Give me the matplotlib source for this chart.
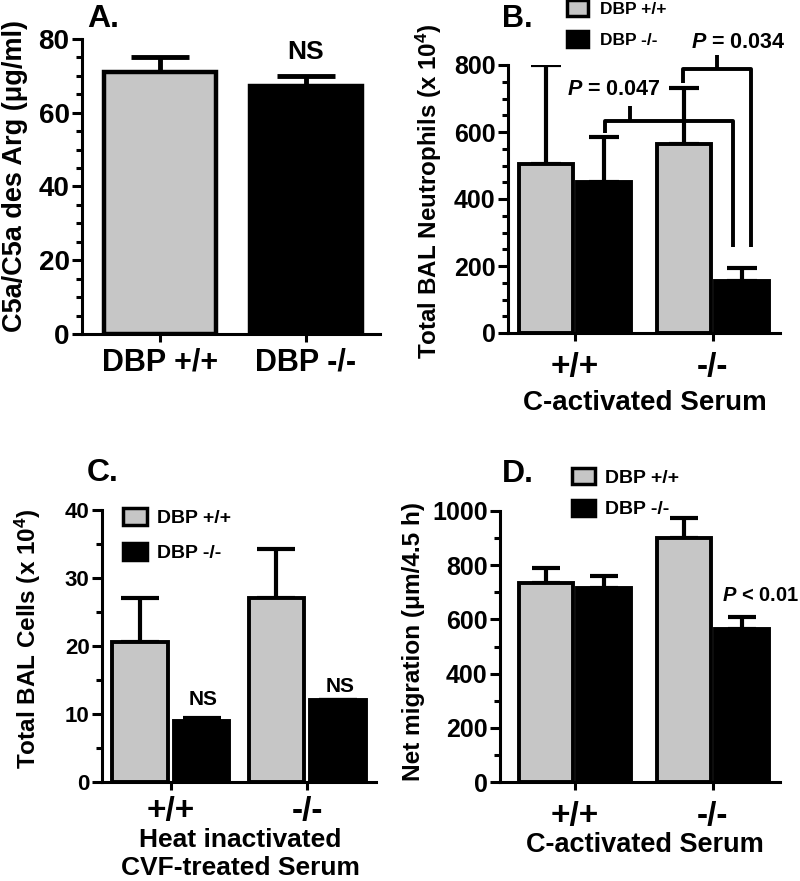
import numpy as np
import matplotlib
matplotlib.use("Agg")
import matplotlib.pyplot as plt
from matplotlib.patches import Patch
from matplotlib.ticker import MultipleLocator

plt.rcParams['font.family'] = ['Liberation Sans', 'DejaVu Sans']
plt.rcParams['font.weight'] = 'bold'
plt.rcParams['axes.labelweight'] = 'bold'
plt.rcParams['mathtext.fontset'] = 'custom'
plt.rcParams['mathtext.it'] = 'Liberation Sans:italic:bold'
plt.rcParams['mathtext.rm'] = 'Liberation Sans:bold'

# ---- data ----
a_labels = ['DBP +/+', 'DBP -/-']
a_mean = [71.0, 67.3]
a_err = [4.0, 2.7]

groups = ['+/+', '-/-']
b_wt = [505, 565]
b_wt_err = [295, 165]
b_ko = [450, 155]
b_ko_err = [135, 40]

c_wt = [20.6, 27.0]
c_wt_err = [6.4, 7.2]
c_ko = [9.0, 12.0]
c_ko_err = [0.4, 0.0]

d_wt = [736, 902]
d_wt_err = [53, 71]
d_ko = [717, 565]
d_ko_err = [43, 44]

GRAY = '#c6c6c6'
W, H = 800, 881
fig = plt.figure(figsize=(W / 100, H / 100), dpi=100)


def px_axes(left, top, right, bottom):
    return fig.add_axes([left / W, 1 - bottom / H, (right - left) / W, (bottom - top) / H])


def style(ax, ymax, major, minor, tsize, lw=2.2):
    for s in ['top', 'right']:
        ax.spines[s].set_visible(False)
    for s in ['left', 'bottom']:
        ax.spines[s].set_linewidth(lw)
    ax.set_ylim(0, ymax)
    ax.yaxis.set_major_locator(MultipleLocator(major))
    ax.yaxis.set_minor_locator(MultipleLocator(minor))
    ax.tick_params(axis='y', which='major', length=7, width=lw, labelsize=tsize, pad=2)
    ax.tick_params(axis='y', which='minor', length=4.5, width=lw)
    ax.tick_params(axis='x', which='major', length=6, width=lw)


def fig_text(x, y, s, **kw):
    fig.text(x / W, 1 - y / H, s, **kw)


def legend(ax, x, y, fs, hl, hh, ls, tp):
    handles = [Patch(facecolor=GRAY, edgecolor='black', linewidth=2.5, label='DBP +/+'),
               Patch(facecolor='black', edgecolor='black', linewidth=2.5, label='DBP -/-')]
    ax.legend(handles=handles, loc='upper left', bbox_to_anchor=(x / W, 1 - y / H),
              bbox_transform=fig.transFigure, frameon=False, fontsize=fs,
              handlelength=hl, handleheight=hh, labelspacing=ls, handletextpad=tp,
              borderpad=0, borderaxespad=0)


# ---- A ----
axA = px_axes(82, 39, 380, 334)
style(axA, 80, 20, 5, 20)
xa = np.arange(2)
axA.errorbar(xa, a_mean, yerr=[np.zeros(2), a_err], fmt='none', ecolor='black',
             elinewidth=3.5, capsize=21, capthick=3.5, zorder=1)
axA.bar(xa, a_mean, width=0.77, color=[GRAY, 'black'], edgecolor='black', linewidth=3.2, zorder=2)
axA.set_xlim(-0.534, 1.507)
axA.set_xticks(xa)
axA.set_xticklabels(a_labels, fontsize=22)
axA.tick_params(axis='x', pad=4)
axA.set_ylabel('C5a/C5a des Arg (μg/ml)', fontsize=19.5)
axA.yaxis.set_label_coords(-0.181, 0.537)
axA.text(1, 76.5, 'NS', ha='center', va='center', fontsize=19)
fig_text(87, 27, 'A.', fontsize=23, va='baseline')

# ---- grouped panels ----
xg = np.arange(2)


def grouped(ax, wt, wte, ko, koe, off, width, cap, lw):
    ax.errorbar(xg - off, wt, yerr=[np.zeros(2), wte], fmt='none', ecolor='black',
                elinewidth=lw, capsize=cap, capthick=lw, zorder=1)
    ax.errorbar(xg + off, ko, yerr=[np.zeros(2), koe], fmt='none', ecolor='black',
                elinewidth=lw, capsize=cap, capthick=lw, zorder=1)
    ax.bar(xg - off, wt, width=width, color=GRAY, edgecolor='black', linewidth=2.8, zorder=2)
    ax.bar(xg + off, ko, width=width, color='black', edgecolor='black', linewidth=2.8, zorder=2)
    ax.set_xticks(xg)
    ax.set_xticklabels(groups, fontsize=24)


# ---- B ----
axB = px_axes(508, 65, 780, 333)
style(axB, 800, 200, 50, 18)
grouped(axB, b_wt, b_wt_err, b_ko, b_ko_err, 0.21, 0.39, 11, 3)
axB.set_xlim(-0.486, 1.486)
axB.tick_params(axis='x', pad=8)
axB.set_ylabel('Total BAL Neutrophils (x 10$^\\mathregular{4}$)', fontsize=17.4)
axB.yaxis.set_label_coords(-0.235, 0.53)
bk = dict(color='black', lw=2.8, clip_on=False, solid_capstyle='butt')
axB.plot([0.217, 0.217, 1.145, 1.145], [597, 634, 634, 258], **bk)
axB.plot([0.40, 0.40], [634, 678], **bk)
axB.plot([0.785, 0.785, 1.273, 1.273], [747, 787, 787, 258], **bk)
axB.plot([1.027, 1.027], [787, 830], **bk)
axB.text(0.28, 727, '$P$ = 0.047', ha='center', va='center', fontsize=15.5)
axB.text(1.18, 867, '$P$ = 0.034', ha='center', va='center', fontsize=15.5, clip_on=False)
fig_text(502, 27, 'B.', fontsize=22, va='baseline')
fig_text(645, 403, 'C-activated Serum', fontsize=20, ha='center', va='center')
legend(axB, 567, 0, 12.5, 1.2, 1.03, 0.8, 0.69)

# ---- C ----
axC = px_axes(102, 510, 376, 782)
style(axC, 40, 10, 5, 16)
grouped(axC, c_wt, c_wt_err, c_ko, c_ko_err, 0.225, 0.41, 14, 3)
axC.set_xlim(-0.507, 1.507)
axC.tick_params(axis='x', pad=4)
axC.set_ylabel('Total BAL Cells (x 10$^\\mathregular{4}$)', fontsize=17.5)
axC.yaxis.set_label_coords(-0.215, 0.526)
axC.text(0.235, 12.1, 'NS', ha='center', va='center', fontsize=15)
axC.text(1.24, 14.1, 'NS', ha='center', va='center', fontsize=15)
fig_text(87, 481, 'C.', fontsize=23, va='baseline')
fig_text(240, 840, 'Heat inactivated', fontsize=19, ha='center', va='center')
fig_text(240, 868, 'CVF-treated Serum', fontsize=19, ha='center', va='center')
legend(axC, 123, 508, 14, 1.24, 0.98, 0.82, 0.52)

# ---- D ----
axD = px_axes(500, 511, 780, 782)
style(axD, 1000, 200, 100, 18)
grouped(axD, d_wt, d_wt_err, d_ko, d_ko_err, 0.21, 0.39, 10, 3)
axD.set_xlim(-0.543, 1.486)
axD.tick_params(axis='x', pad=8)
axD.set_ylabel('Net migration (μm/4.5 h)', fontsize=17.6)
axD.yaxis.set_label_coords(-0.268, 0.52)
axD.text(1.065, 690, '$P$ < 0.01', ha='left', va='center', fontsize=14.5, clip_on=False)
fig_text(502, 482, 'D.', fontsize=23, va='baseline')
fig_text(645, 845, 'C-activated Serum', fontsize=19.5, ha='center', va='center')
legend(axD, 572, 468, 14, 1.19, 0.88, 0.67, 0.52)

fig.savefig('out.png', dpi=100)
